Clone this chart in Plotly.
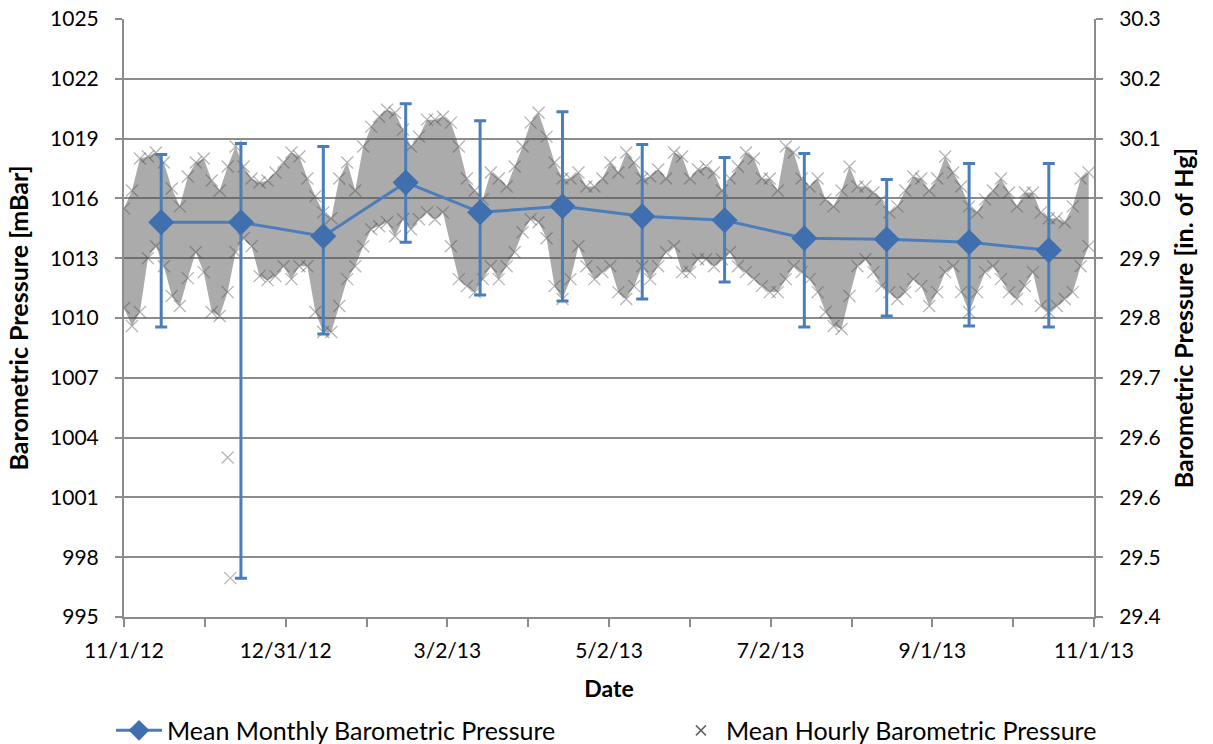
import pandas as pd
import plotly.graph_objects as go

# ---------------- data ----------------
start = pd.Timestamp("2012-11-01")

monthly_dates = ["2012-11-15", "2012-12-15", "2013-01-15", "2013-02-15", "2013-03-15", "2013-04-15",
                 "2013-05-15", "2013-06-15", "2013-07-15", "2013-08-15", "2013-09-15", "2013-10-15"]
monthly_mean = [1014.8, 1014.8, 1014.1, 1016.8, 1015.3, 1015.6, 1015.1, 1014.9, 1014.0, 1013.95, 1013.8, 1013.4]
monthly_max = [1018.2, 1018.75, 1018.6, 1020.75, 1019.9, 1020.35, 1018.7, 1018.05, 1018.25, 1016.95, 1017.75, 1017.75]
monthly_min = [1009.55, 996.95, 1009.2, 1013.8, 1011.15, 1010.85, 1010.95, 1011.8, 1009.55, 1010.1, 1009.6, 1009.55]

# hourly cloud, read as an envelope (day offset from 11/1/12, upper and lower edge in mBar)
hourly_day = [0, 3, 6, 9, 12, 15, 18, 21, 24, 27, 30, 33, 36, 39, 42, 45, 48, 51, 54, 57,
              60, 63, 66, 69, 72, 75, 78, 81, 84, 87, 90, 93, 96, 99, 102, 105, 108, 111, 114, 117,
              120, 123, 126, 129, 132, 135, 138, 141, 144, 147, 150, 153, 156, 159, 162, 165, 168, 171, 174, 177,
              180, 183, 186, 189, 192, 195, 198, 201, 204, 207, 210, 213, 216, 219, 222, 225, 228, 231, 234, 237,
              240, 243, 246, 249, 252, 255, 258, 261, 264, 267, 270, 273, 276, 279, 282, 285, 288, 291, 294, 297,
              300, 303, 306, 309, 312, 315, 318, 321, 324, 327, 330, 333, 336, 339, 342, 345, 348, 351, 354, 357,
              360, 363]
hourly_high = [1015.5, 1016.4, 1018.0, 1018.1, 1018.3, 1017.8, 1016.5, 1015.6, 1017.1, 1017.8,
               1018.0, 1016.9, 1016.4, 1017.6, 1018.6, 1017.6, 1017.0, 1016.8, 1016.9, 1017.3,
               1017.8, 1018.3, 1018.1, 1017.0, 1016.1, 1015.3, 1015.0, 1017.0, 1017.8, 1016.4,
               1018.6, 1019.6, 1020.1, 1020.45, 1020.3, 1019.45, 1018.6, 1019.1, 1019.95, 1019.95,
               1020.1, 1019.8, 1018.6, 1017.0, 1016.4, 1015.95, 1017.3, 1017.0, 1016.6, 1017.6,
               1018.6, 1019.8, 1020.3, 1019.1, 1017.8, 1017.0, 1017.0, 1017.3, 1016.6, 1016.6,
               1017.0, 1017.8, 1017.3, 1018.3, 1017.8, 1017.0, 1017.1, 1017.45, 1017.0, 1018.3,
               1018.1, 1017.0, 1017.45, 1017.6, 1017.3, 1016.4, 1017.0, 1017.6, 1018.3, 1018.0,
               1017.0, 1017.0, 1016.4, 1018.6, 1018.3, 1017.0, 1016.6, 1017.0, 1015.95, 1015.6,
               1016.4, 1017.6, 1016.6, 1016.6, 1016.3, 1015.95, 1015.3, 1015.6, 1016.4, 1017.1,
               1017.0, 1016.4, 1017.0, 1018.1, 1017.3, 1016.6, 1015.6, 1015.3, 1015.95, 1016.4,
               1017.0, 1016.3, 1015.6, 1016.3, 1016.3, 1015.3, 1015.0, 1015.0, 1014.8, 1015.6,
               1017.0, 1017.3]
hourly_low = [1010.5, 1009.6, 1010.3, 1013.0, 1013.6, 1012.6, 1011.1, 1010.6, 1012.0, 1013.3,
              1012.3, 1010.3, 1010.1, 1011.3, 1013.3, 1014.0, 1013.6, 1012.1, 1011.9, 1012.1,
              1012.6, 1011.95, 1012.6, 1012.6, 1010.3, 1009.3, 1009.3, 1010.6, 1011.95, 1012.6,
              1013.6, 1014.45, 1014.6, 1014.8, 1014.1, 1014.95, 1014.45, 1014.95, 1015.3, 1014.95,
              1015.3, 1013.6, 1011.95, 1011.6, 1011.3, 1011.95, 1012.6, 1011.95, 1012.6, 1013.3,
              1014.3, 1014.95, 1014.8, 1014.0, 1011.6, 1010.95, 1011.95, 1013.6, 1012.6, 1011.95,
              1012.3, 1012.6, 1011.3, 1010.95, 1011.6, 1012.6, 1011.95, 1012.6, 1013.3, 1013.6,
              1012.3, 1012.3, 1012.95, 1012.95, 1012.6, 1012.95, 1013.3, 1012.6, 1012.3, 1011.95,
              1011.6, 1011.3, 1011.3, 1011.95, 1012.6, 1012.3, 1011.95, 1011.3, 1010.3, 1009.6,
              1009.45, 1011.1, 1012.6, 1012.95, 1012.3, 1011.6, 1011.3, 1010.95, 1011.3, 1011.95,
              1011.6, 1010.6, 1011.3, 1012.3, 1012.6, 1011.3, 1010.3, 1011.3, 1012.3, 1012.6,
              1011.95, 1011.3, 1010.95, 1011.6, 1012.3, 1010.6, 1010.3, 1010.6, 1010.95, 1011.3,
              1012.6, 1013.6]
# isolated low hourly readings
outlier_day = [39, 40]
outlier_val = [1003.0, 996.95]

# axes
x_tick_labels = ["11/1/12", "12/31/12", "3/2/13", "5/2/13", "7/2/13", "9/1/13", "11/1/13"]
y_left_ticks = [995, 998, 1001, 1004, 1007, 1010, 1013, 1016, 1019, 1022, 1025]
y_right_labels = ["29.4", "29.5", "29.6", "29.6", "29.7", "29.8", "29.9", "30.0", "30.1", "30.2", "30.3"]

# ---------------- figure ----------------
FONT = "Lato"
BLUE = "#4A7EBB"
GRID = "#8C8C8C"
CLOUD_X = "rgba(70,70,70,0.40)"

hx = [start + pd.Timedelta(days=d) for d in hourly_day]
ox = [start + pd.Timedelta(days=d) for d in outlier_day]
mx = pd.to_datetime(monthly_dates)

fig = go.Figure()

# cloud envelope (band)
fig.add_trace(go.Scatter(x=hx, y=hourly_high, mode="lines", line=dict(width=0, color="rgba(0,0,0,0)"),
                         hoverinfo="skip", showlegend=False))
fig.add_trace(go.Scatter(x=hx, y=hourly_low, mode="lines", line=dict(width=0, color="rgba(0,0,0,0)"),
                         fill="tonexty", fillcolor="rgba(80,80,80,0.48)", hoverinfo="skip", showlegend=False))
# cloud edge markers
fig.add_trace(go.Scatter(x=hx + hx + ox, y=hourly_high + hourly_low + outlier_val, mode="markers",
                         marker=dict(symbol="x-thin-open", size=12, color=CLOUD_X,
                                     line=dict(width=1.3, color=CLOUD_X)),
                         showlegend=False, hoverinfo="skip"))

# monthly series with error bars
err_plus = [hi - m for hi, m in zip(monthly_max, monthly_mean)]
err_minus = [m - lo for lo, m in zip(monthly_min, monthly_mean)]
fig.add_trace(go.Scatter(
    x=mx, y=monthly_mean, mode="lines+markers", name="Mean Monthly Barometric Pressure",
    legend="legend",
    line=dict(color=BLUE, width=3),
    marker=dict(symbol="diamond", size=20, color="#3F6FAE", line=dict(width=0)),
    error_y=dict(type="data", symmetric=False, array=err_plus, arrayminus=err_minus,
                 color=BLUE, thickness=3, width=6),
))

# legend entry for hourly
fig.add_trace(go.Scatter(x=[None], y=[None], mode="markers", name="Mean Hourly Barometric Pressure",
                         legend="legend2",
                         marker=dict(symbol="x-thin-open", size=10, color="rgba(60,60,60,0.8)",
                                     line=dict(width=1.5, color="rgba(60,60,60,0.8)"))))

# right axis carrier
fig.add_trace(go.Scatter(x=[mx[0]], y=[monthly_mean[0]], yaxis="y2", mode="markers",
                         marker=dict(opacity=0), showlegend=False, hoverinfo="skip"))

x_tickvals = [start + pd.Timedelta(days=k * 365 / 6) for k in range(len(x_tick_labels))]
x_minor = [start + pd.Timedelta(days=k * 365 / 12) for k in range(13)]

legend_common = dict(orientation="h", xanchor="left", y=-0.19, yanchor="middle",
                     font=dict(family=FONT, size=25), bgcolor="rgba(0,0,0,0)")

fig.update_layout(
    width=1213, height=744,
    margin=dict(l=124, r=119, t=19, b=127, autoexpand=False),
    paper_bgcolor="white", plot_bgcolor="white",
    font=dict(family=FONT, size=21, color="#000000"),
    showlegend=True,
    legend=dict(x=-0.0134, itemwidth=46, **legend_common),
    legend2=dict(x=0.569, itemwidth=40, **legend_common),
    xaxis=dict(
        type="date", range=[start, start + pd.Timedelta(days=365)],
        tickmode="array", tickvals=x_tickvals, ticktext=x_tick_labels,
        showgrid=False, zeroline=False, automargin=False, ticklabeloverflow="allow",
        showline=True, linecolor=GRID, linewidth=2,
        ticks="outside", ticklen=8, tickcolor=GRID, tickwidth=1.5,
        minor=dict(tickmode="array", tickvals=x_minor, ticks="outside", ticklen=8, tickcolor=GRID, tickwidth=1.5),
        tickfont=dict(size=21), ticklabelstandoff=6,
        title=dict(text="<b>Date</b>", font=dict(size=23), standoff=20),
    ),
    yaxis=dict(
        range=[995, 1025], tickmode="array", tickvals=y_left_ticks,
        showgrid=True, gridcolor=GRID, gridwidth=1.5, zeroline=False, automargin=False,
        ticklabeloverflow="allow",
        showline=True, linecolor=GRID, linewidth=2,
        ticks="outside", ticklen=7, tickcolor=GRID, tickwidth=1.5,
        tickfont=dict(size=21), ticklabelstandoff=12,
        title=dict(text="<b>Barometric Pressure [mBar]</b>", font=dict(size=25), standoff=14),
    ),
    yaxis2=dict(
        range=[995, 1025], overlaying="y", side="right", tickmode="array",
        tickvals=y_left_ticks, ticktext=y_right_labels,
        showgrid=False, zeroline=False, automargin=False, ticklabeloverflow="allow",
        showline=True, linecolor=GRID, linewidth=2,
        ticks="outside", ticklen=7, tickcolor=GRID, tickwidth=1.5,
        tickfont=dict(size=21), ticklabelstandoff=12,
        title=dict(text="<b>Barometric Pressure [in. of Hg]</b>", font=dict(size=25), standoff=16),
    ),
)

# remove the browser's default 8px page margin so the figure fills the window exactly
fig.write_html("out.html", config={"displayModeBar": False},
               post_script="document.body.style.margin='0';document.body.style.overflow='hidden';")
